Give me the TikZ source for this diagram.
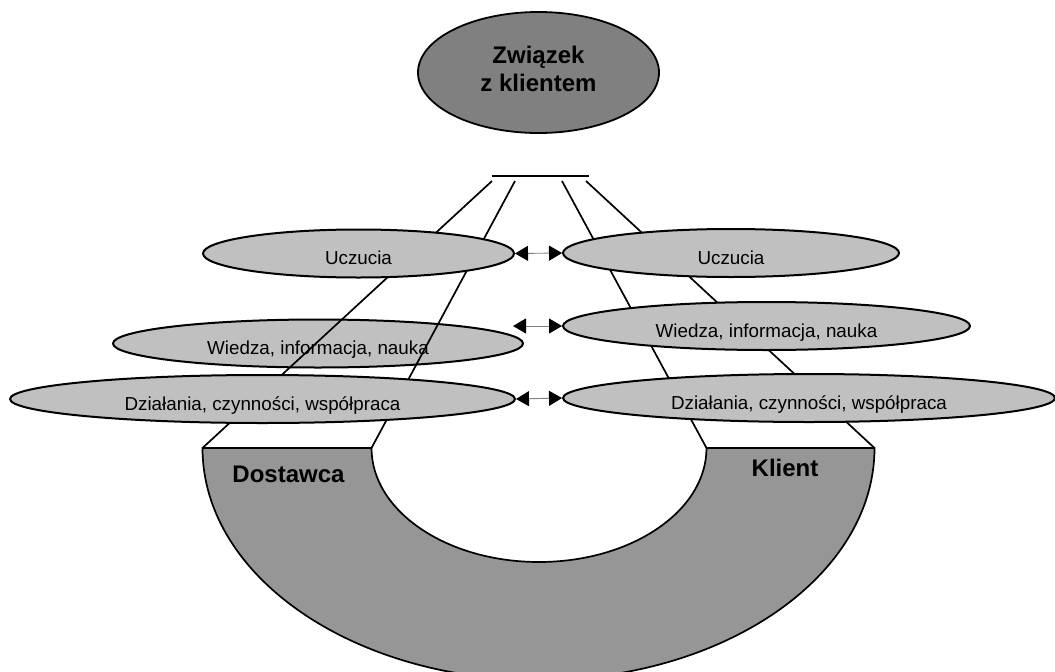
\documentclass[tikz,border=0pt]{standalone}
\usepackage{fontspec}
\setmainfont{Liberation Sans}
\usetikzlibrary{shapes.geometric,arrows.meta}
\definecolor{lightfill}{HTML}{C0C0C0}
\definecolor{midfill}{HTML}{969696}
\definecolor{darkfill}{HTML}{808080}
\begin{document}
\begin{tikzpicture}[x=1pt,y=-1pt,
  pole/.style={ellipse, draw, line width=2pt, fill=lightfill, inner sep=0pt, minimum height=48pt,
    font=\fontsize{18.8}{22}\selectfont, text height=22pt, text depth=0pt},
  spoke/.style={line width=1.7pt},
  twoway/.style={draw=gray, line width=0.9pt,
    {Triangle[length=13pt,width=15pt,color=black,fill=black]}-{Triangle[length=13pt,width=15pt,color=black,fill=black]}},
  bigtext/.style={font=\bfseries\fontsize{24}{28}\selectfont}]
\useasboundingbox (0,0) rectangle (1055,672);

\coordinate (barL) at (492,176);
\coordinate (barR) at (589,176);
\coordinate (s1) at (492,181);
\coordinate (s2) at (515,181);
\coordinate (s3) at (562,181);
\coordinate (s4) at (586,181);
\coordinate (e1) at (202.5,448);
\coordinate (e2) at (371.5,448);
\coordinate (e3) at (706.5,448);
\coordinate (e4) at (874.5,448);
\coordinate (wieA) at (513,326);

\node[ellipse, draw, line width=1.8pt, fill=darkfill, minimum width=241pt, minimum height=121pt,
  align=center, text depth=8pt, bigtext] (rel) at (538.5,72.5) {Związek\\z klientem};
\draw[spoke] (barL) -- (barR);

\node[pole, minimum width=410pt] (wieL) at (318,343.5) {Wiedza, informacja, nauka};

\draw[spoke] (s1) -- (e1);
\draw[spoke] (s2) -- (e2);
\draw[spoke] (s3) -- (e3);
\draw[spoke] (s4) -- (e4);

\node[pole, minimum width=311pt] (uczL) at (358.5,253.5) {Uczucia};
\node[pole, minimum width=336pt] (uczR) at (731,253) {Uczucia};
\node[pole, minimum width=407pt] (wieR) at (766.5,326) {Wiedza, informacja, nauka};
\node[pole, minimum width=505pt] (dzL) at (262.5,399) {Działania, czynności, współpraca};
\node[pole, minimum width=492pt] (dzR) at (809,398) {Działania, czynności, współpraca};

\draw[twoway] (uczL.east) -- (uczR.west);
\draw[twoway] (wieA) -- (wieR.west);
\draw[twoway] (dzL.east) -- (dzR.west);

\filldraw[fill=midfill, line width=1.7pt] (e1) -- (e2)
  arc[start angle=180, end angle=360, x radius=167.5pt, y radius=114pt] -- (e4)
  arc[start angle=0, end angle=-180, x radius=336pt, y radius=232pt] -- cycle;
\node[bigtext, anchor=base] (sup) at (288.5,482.7) {Dostawca};
\node[bigtext, anchor=base] (cli) at (785,476.7) {Klient};
\end{tikzpicture}
\end{document}
